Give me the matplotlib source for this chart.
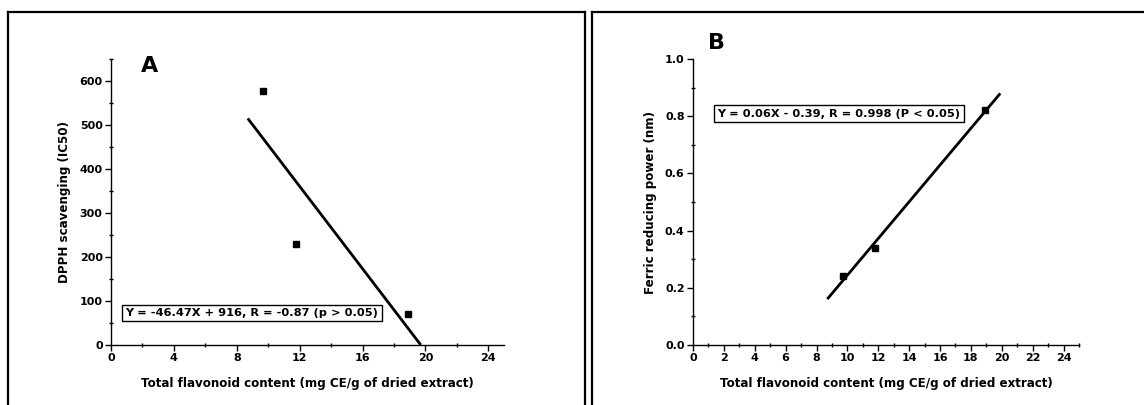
import numpy as np
import matplotlib
matplotlib.use("Agg")
import matplotlib.pyplot as plt
from matplotlib.lines import Line2D
from matplotlib.ticker import MultipleLocator, FormatStrFormatter

plt.rcParams['font.family'] = ['DejaVu Sans']
plt.rcParams['font.weight'] = 'bold'

# total flavonoid content of the three extracts
tfc = [9.7, 11.8, 18.9]
# DPPH scavenging (IC50) and ferric reducing power for the same extracts
dpph = [577, 229, 70]
frap = [0.24, 0.34, 0.82]

# x span of each regression line
fit_span_a = [8.7, 19.7]
fit_span_b = [8.7, 19.9]

eq_a = "Y = -46.47X + 916, R = -0.87 (p > 0.05)"
eq_b = "Y = 0.06X - 0.39, R = 0.998 (P < 0.05)"
xlab = "Total flavonoid content (mg CE/g of dried extract)"

W, H = 1144, 405
fig = plt.figure(figsize=(W / 100, H / 100), dpi=100)


# panel frames
def frame(x0, x1):
    kw = dict(color="black", lw=1.6, transform=fig.transFigure)
    fig.add_artist(Line2D([x0 / W, x0 / W], [0, 1 - 12 / H], **kw))
    fig.add_artist(Line2D([x0 / W, x1 / W], [1 - 12 / H, 1 - 12 / H], **kw))
    if x1 < W:
        fig.add_artist(Line2D([x1 / W, x1 / W], [0, 1 - 12 / H], **kw))


frame(8, 585)
frame(592, W + 5)


def style(ax, xmaj, xmin, ymaj, ymin):
    for s in ["top", "right"]:
        ax.spines[s].set_visible(False)
    for s in ["left", "bottom"]:
        ax.spines[s].set_linewidth(1.0)
    ax.xaxis.set_major_locator(MultipleLocator(xmaj))
    ax.xaxis.set_minor_locator(MultipleLocator(xmin))
    ax.yaxis.set_major_locator(MultipleLocator(ymaj))
    ax.yaxis.set_minor_locator(MultipleLocator(ymin))
    ax.tick_params(which="major", direction="out", length=4, width=1, pad=2, labelsize=8)
    ax.tick_params(which="minor", direction="inout", length=3, width=1)
    ax.set_xlabel(xlab, fontsize=8.6, fontweight="bold", labelpad=10)


def fit_line(ax, x, y, span):
    k, b = np.polyfit(x, y, 1)
    xs = np.array(span)
    ax.plot(xs, k * xs + b, color="black", lw=2.0, solid_capstyle="butt")
    ax.plot(x, y, ls="none", marker="s", ms=4.2, color="black")


box = dict(boxstyle="square,pad=0.3", fc="white", ec="black", lw=1)

# A: DPPH
ax1 = fig.add_axes([111 / W, 60 / H, 393 / W, 286 / H])
fit_line(ax1, tfc, dpph, fit_span_a)
ax1.set_xlim(0, 25)
ax1.set_ylim(0, 650)
style(ax1, 4, 2, 100, 50)
ax1.set_ylabel("DPPH scavenging (IC50)", fontsize=8.6, fontweight="bold", labelpad=6)
ax1.text(0.075, 0.975, "A", transform=ax1.transAxes, fontsize=16, fontweight="bold",
         ha="left", va="center")
ax1.text(0.358, 0.112, eq_a, transform=ax1.transAxes, fontsize=8.2, fontweight="bold",
         ha="center", va="center", bbox=box)

# B: FRAP
ax2 = fig.add_axes([693 / W, 60 / H, 386 / W, 286 / H])
fit_line(ax2, tfc, frap, fit_span_b)
ax2.set_xlim(0, 25)
ax2.set_ylim(0, 1.0)
ax2.yaxis.set_major_formatter(FormatStrFormatter("%.1f"))
style(ax2, 2, 1, 0.2, 0.1)
ax2.set_ylabel("Ferric reducing power (nm)", fontsize=8.6, fontweight="bold", labelpad=5.5)
ax2.text(0.04, 1.055, "B", transform=ax2.transAxes, fontsize=16, fontweight="bold",
         ha="left", va="center")
ax2.text(0.378, 0.808, eq_b, transform=ax2.transAxes, fontsize=8.2, fontweight="bold",
         ha="center", va="center", bbox=box)

fig.savefig("out.png", dpi=100)
